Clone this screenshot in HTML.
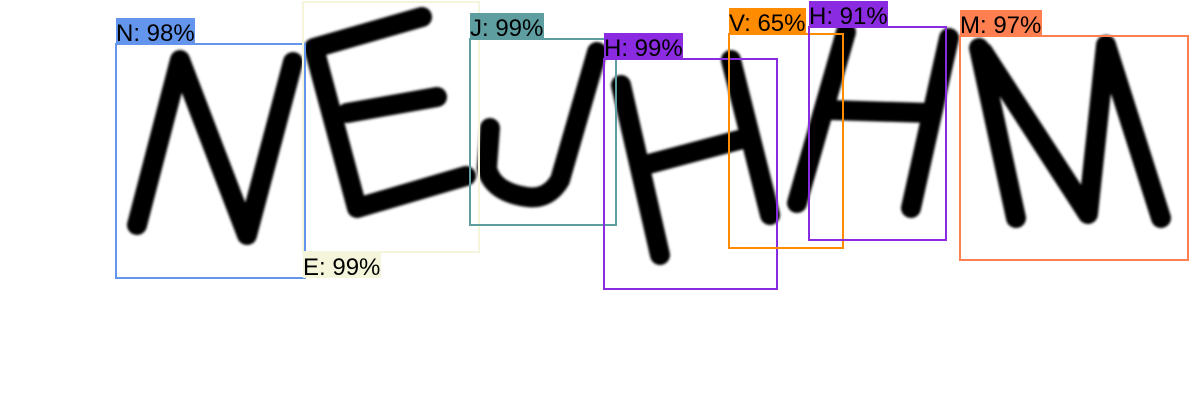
<!DOCTYPE html>
<html><head><meta charset="utf-8"><style>
html,body{margin:0;padding:0;background:#fff;width:1200px;height:420px;overflow:hidden}
svg text{font-family:"Liberation Sans",sans-serif;font-size:24px;fill:#000}
</style></head><body>
<svg id="c" width="1200" height="420" viewBox="0 0 1200 420">
<defs><filter id="bl"><feGaussianBlur stdDeviation="1.4"/></filter></defs>
<g fill="none" stroke="#000" stroke-width="20" stroke-linecap="round" stroke-linejoin="round" filter="url(#bl)">
<path d="M137,225 L180,60 L247,235 L293,62"/>
<path d="M422,17 L314,48 L357,208 L466,176 M347,113 L437,97"/>
<path d="M597,52 L560,180 Q548,200 527,197 Q492,192 487,168 L490,128"/>
<path d="M621,85 L660,255 M731,60 L770,215 M645,165 L739,140"/>
<path d="M846,32 L797,203 M949,38 L911,208 M829,110 L930,113"/>
<path d="M979,48 L1016,218 M983,52 L1088,214 L1106,45 L1161,218"/>
</g>
<g id="boxes"></g>
</svg>
<script>
const labels=["N","E","J","H","V","H","M"];
const scores=[98,99,99,99,65,91,97];
const boxX=[116,303,470,604,729,809,960];
const boxY=[44,2,39,59,34,27,36];
const boxW=[189,176,146,173,114,137,228];
const boxH=[234,250,186,230,214,213,224];
const colors=["#6495ED","#F5F5DC","#5F9EA0","#8A2BE2","#FF8C00","#8A2BE2","#FF7F50"];
const labelBelow=[false,true,false,false,false,false,false];
const g=document.getElementById('boxes');
const NS='http://www.w3.org/2000/svg';
for(let i=0;i<labels.length;i++){
  const grp=document.createElementNS(NS,'g');
  
  
  const r=document.createElementNS(NS,'rect');
  
  
  r.setAttribute('x',boxX[i]);r.setAttribute('y',boxY[i]);
  r.setAttribute('width',boxW[i]);r.setAttribute('height',boxH[i]);
  r.setAttribute('fill','none');r.setAttribute('stroke',colors[i]);r.setAttribute('stroke-width','2');
  grp.appendChild(r);
  const txt=labels[i]+': '+scores[i]+'%';
  const ly=labelBelow[i]?boxY[i]+boxH[i]:boxY[i]-26;
  const bg=document.createElementNS(NS,'rect');
  
  
  bg.setAttribute('x',boxX[i]);bg.setAttribute('y',ly);
  bg.setAttribute('height',26);
  bg.setAttribute('fill',colors[i]);
  grp.appendChild(bg);
  const t=document.createElementNS(NS,'text');
  
  
  t.setAttribute('x',boxX[i]);t.setAttribute('y',ly+23);
  t.textContent=txt;
  grp.appendChild(t);
  g.appendChild(grp);
  bg.setAttribute('width',Math.ceil(t.getComputedTextLength()));
}
</script>
</body></html>
